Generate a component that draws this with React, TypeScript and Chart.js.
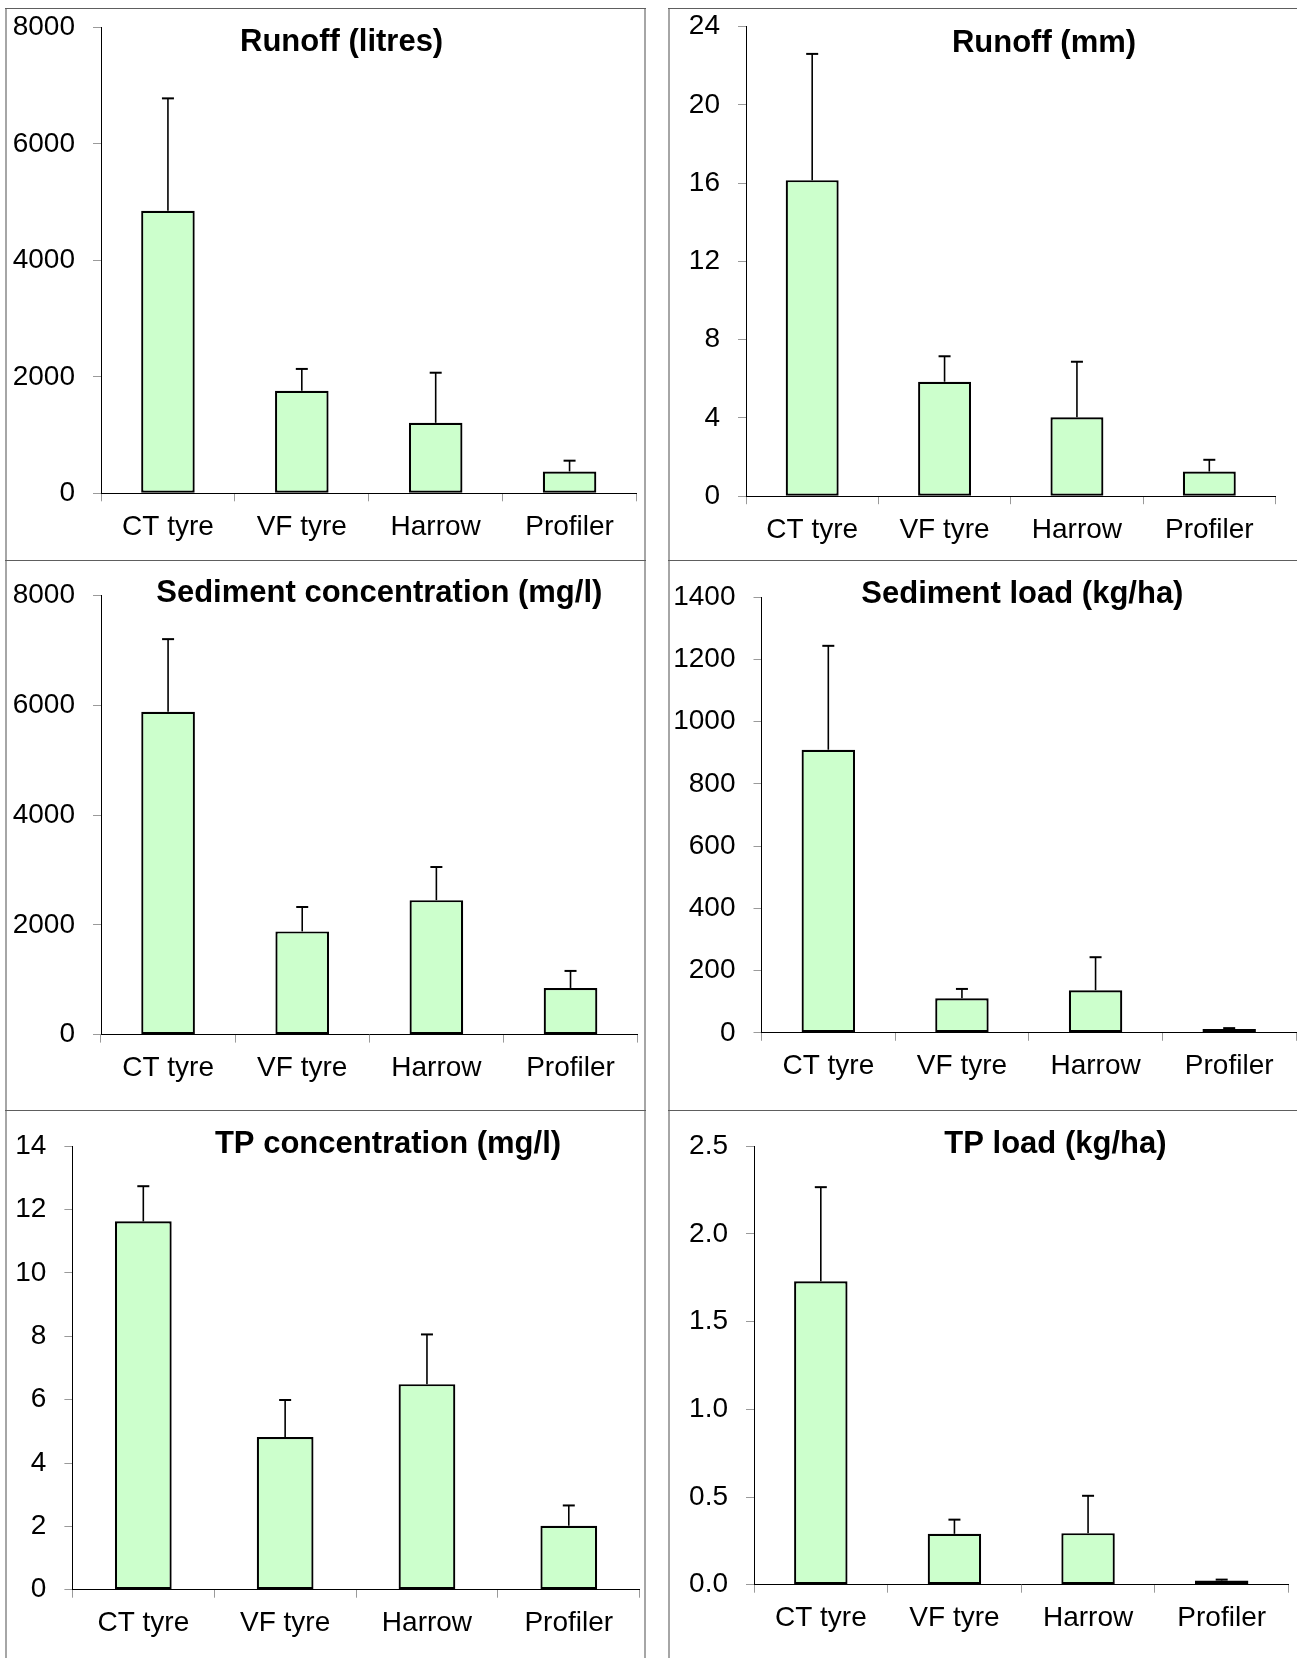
import React, { useEffect, useRef } from "react";
import { Chart, registerables } from "chart.js";

Chart.register(...registerables);

const FONT = "'Liberation Sans', Arial, Helvetica, sans-serif";

// ---------- data ----------
const categories = ["CT tyre", "VF tyre", "Harrow", "Profiler"];

const runoffLitres = [4850, 1760, 1210, 375];
const runoffLitresErr = [1930, 375, 860, 185];

const runoffMm = [16.15, 5.85, 4.03, 1.26];
const runoffMmErr = [6.45, 1.3, 2.84, 0.6];

const sedimentConc = [5880, 1880, 2450, 850];
const sedimentConcErr = [1325, 445, 603, 310];

const sedimentLoad = [910, 111, 137, 12];
const sedimentLoadErr = [334, 30, 106, 3];

const tpConc = [11.63, 4.82, 6.49, 2.02];
const tpConcErr = [1.11, 1.17, 1.57, 0.64];

const tpLoad = [1.73, 0.29, 0.294, 0.024];
const tpLoadErr = [0.537, 0.081, 0.213, 0.005];

const titles = [
  "Runoff (litres)",
  "Runoff (mm)",
  "Sediment concentration (mg/l)",
  "Sediment load (kg/ha)",
  "TP concentration (mg/l)",
  "TP load (kg/ha)",
];
const axisMax = [8000, 24, 8000, 1400, 14, 2.5];
const axisStep = [2000, 4, 2000, 200, 2, 0.5];
const axisDecimals = [0, 0, 0, 0, 0, 1];

const seriesValues = [runoffLitres, runoffMm, sedimentConc, sedimentLoad, tpConc, tpLoad];
const seriesErrors = [runoffLitresErr, runoffMmErr, sedimentConcErr, sedimentLoadErr, tpConcErr, tpLoadErr];

// ---------- layout (page coordinates) ----------
type Box = { x: number; y: number; w: number; h: number };
type Area = { l: number; r: number; t: number; b: number };

const boxes: Box[] = [
  { x: 8, y: 9, w: 636, h: 551 },
  { x: 671, y: 9, w: 626, h: 551 },
  { x: 8, y: 561, w: 636, h: 549 },
  { x: 671, y: 561, w: 626, h: 549 },
  { x: 8, y: 1112, w: 636, h: 546 },
  { x: 671, y: 1112, w: 626, h: 546 },
];
const areas: Area[] = [
  { l: 101, r: 636.5, t: 27.3, b: 493.3 },
  { l: 746, r: 1275.5, t: 26.5, b: 496.2 },
  { l: 101, r: 637.6, t: 595.5, b: 1034.6 },
  { l: 761.5, r: 1296, t: 597.3, b: 1032.8 },
  { l: 72.4, r: 639.7, t: 1146.3, b: 1589.7 },
  { l: 754, r: 1288.5, t: 1146.3, b: 1584.7 },
];
const titlePos = [
  { x: 341.6, y: 42.9 },
  { x: 1044, y: 43 },
  { x: 379.3, y: 593.6 },
  { x: 1022.4, y: 594.8 },
  { x: 388, y: 1144.5 },
  { x: 1055.4, y: 1144.5 },
];

function BarPanel({ idx }: { idx: number }) {
  const ref = useRef<HTMLCanvasElement | null>(null);
  const box = boxes[idx];

  useEffect(() => {
    const canvas = ref.current;
    if (!canvas) return;
    const area = areas[idx];
    const values = seriesValues[idx];
    const errors = seriesErrors[idx];
    const tp = titlePos[idx];
    const dec = axisDecimals[idx];

    const errorBars = {
      id: "errorBars",
      afterDatasetsDraw(chart: any) {
        const ctx = chart.ctx;
        const meta = chart.getDatasetMeta(0);
        const ys = chart.scales.y;
        ctx.save();
        ctx.strokeStyle = "#000";
        meta.data.forEach((el: any, i: number) => {
          const x = el.x;
          const y0 = ys.getPixelForValue(values[i]);
          const y1 = ys.getPixelForValue(values[i] + errors[i]);
          ctx.lineWidth = 1.6;
          ctx.beginPath();
          ctx.moveTo(x, y0);
          ctx.lineTo(x, y1);
          ctx.stroke();
          ctx.lineWidth = 2;
          ctx.beginPath();
          ctx.moveTo(x - 6, y1);
          ctx.lineTo(x + 6, y1);
          ctx.stroke();
        });
        ctx.restore();
      },
    };

    const panelTitle = {
      id: "panelTitle",
      afterDraw(chart: any) {
        const ctx = chart.ctx;
        ctx.save();
        ctx.font = `bold 31px ${FONT}`;
        ctx.fillStyle = "#000";
        ctx.textAlign = "center";
        ctx.textBaseline = "middle";
        ctx.fillText(titles[idx], tp.x - box.x, tp.y - box.y);
        ctx.restore();
      },
    };

    const chart = new Chart(canvas, {
      type: "bar",
      data: {
        labels: categories,
        datasets: [
          {
            data: values,
            backgroundColor: "#CCFFCC",
            borderColor: "#000000",
            borderWidth: 2.2,
            borderSkipped: false,
            barPercentage: 0.4,
            categoryPercentage: 1,
          },
        ],
      },
      options: {
        animation: false,
        responsive: false,
        devicePixelRatio: 1,
        layout: {
          padding: {
            left: 0,
            top: area.t - box.y,
            right: box.x + box.w - area.r,
            bottom: 0,
          },
        },
        plugins: {
          legend: { display: false },
          tooltip: { enabled: false },
          title: { display: false },
        },
        scales: {
          x: {
            offset: true,
            grid: {
              display: true,
              offset: true,
              drawOnChartArea: false,
              drawTicks: true,
              tickLength: 8,
              color: "#9a9a9a",
            },
            border: { display: true, color: "#000", width: 1 },
            ticks: {
              color: "#000",
              font: { family: FONT, size: 28 },
              padding: 9,
              maxRotation: 0,
              autoSkip: false,
            },
            afterFit: (s: any) => {
              s.height = box.y + box.h - area.b;
              s.paddingLeft = 0;
              s.paddingRight = 0;
            },
          },
          y: {
            min: 0,
            max: axisMax[idx],
            grid: {
              display: true,
              drawOnChartArea: false,
              drawTicks: true,
              tickLength: 8,
              color: "#9a9a9a",
            },
            border: { display: true, color: "#000", width: 1 },
            ticks: {
              stepSize: axisStep[idx],
              color: "#000",
              font: { family: FONT, size: 28 },
              padding: 18,
              callback: (v: any) => (dec ? Number(v).toFixed(dec) : String(v)),
            },
            afterFit: (s: any) => {
              s.width = area.l - box.x;
              s.paddingTop = 0;
              s.paddingBottom = 0;
            },
          },
        },
      },
      plugins: [errorBars, panelTitle],
    } as any);

    return () => chart.destroy();
  }, [idx]);

  return (
    <canvas
      ref={ref}
      width={box.w}
      height={box.h}
      style={{ position: "absolute", left: box.x, top: box.y, width: box.w, height: box.h }}
    />
  );
}

function Line({ x, y, w, h, c }: { x: number; y: number; w: number; h: number; c: string }) {
  return <div style={{ position: "absolute", left: x, top: y, width: w, height: h, background: c }} />;
}

export default function App() {
  const vColor = "#a6a6a6";
  const hColor = "#5e5e5e";
  return (
    <div
      style={{
        position: "absolute",
        left: 0,
        top: 0,
        width: 1297,
        height: 1658,
        overflow: "hidden",
        background: "#fff",
      }}
    >
      {/* left column frame */}
      <Line x={5} y={8} w={2} h={1660} c={vColor} />
      <Line x={644} y={8} w={2} h={1660} c={vColor} />
      <Line x={5} y={8} w={641} h={1} c={hColor} />
      <Line x={5} y={560} w={641} h={1} c={hColor} />
      <Line x={5} y={1110} w={641} h={1} c={hColor} />
      {/* right column frame */}
      <Line x={668} y={8} w={2} h={1660} c={vColor} />
      <Line x={668} y={8} w={640} h={1} c={hColor} />
      <Line x={668} y={560} w={640} h={1} c={hColor} />
      <Line x={668} y={1110} w={640} h={1} c={hColor} />
      {[0, 1, 2, 3, 4, 5].map((i) => (
        <BarPanel key={i} idx={i} />
      ))}
    </div>
  );
}
